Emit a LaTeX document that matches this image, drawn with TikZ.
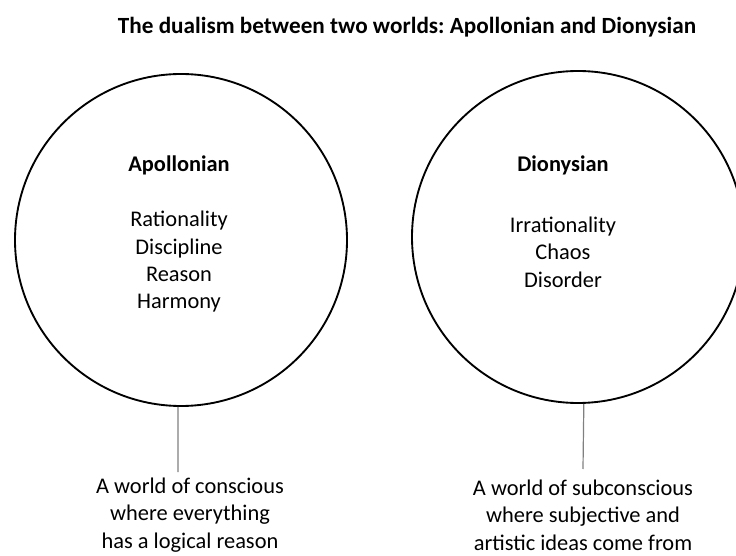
\documentclass[tikz,border=0pt]{standalone}
\usepackage{fontspec}
\setmainfont{Carlito}
\frenchspacing
\begin{document}
\begin{tikzpicture}[x=0.75pt,y=-0.75pt]

\tikzset{
    world/.style={circle,draw,line width=1.4pt,minimum size=249pt,inner sep=0pt},
    txt/.style={align=center,font=\fontsize{16.8}{20.5}\selectfont,inner sep=0pt},
    head/.style={txt,font=\fontsize{16.8}{20.5}\selectfont\bfseries},
    stem/.style={draw=black!50,line width=0.9pt}}

\clip (0,0) rectangle (736,556);

\node[head,font=\fontsize{17.4}{20.5}\selectfont\bfseries] (title) at (407,27) {The dualism between two worlds: Apollonian and Dionysian};

\node[world] (apo) at (181,240) {};
\node[world] (dio) at (578,237) {};

\node[head] (apoName) at (179,165) {Apollonian};
\node[txt] (apoList) at (179,262) {Rationality\\Discipline\\Reason\\Harmony};

\node[head] (dioName) at (563,165) {Dionysian};
\node[txt] (dioList) at (563,252) {Irrationality\\Chaos\\Disorder};

\coordinate (apoFoot) at (178,472);
\coordinate (dioFoot) at (583,469);

\node[txt] (apoNote) at (190,515) {A world of conscious\\where everything\\has a logical reason};
\node[txt] (dioNote) at (583,515) {A world of subconscious\\where subjective and\\artistic ideas come from};

\draw[stem] (apo.-91) -- (apoFoot);
\draw[stem] (dio.-88) -- (dioFoot);

\end{tikzpicture}
\end{document}
